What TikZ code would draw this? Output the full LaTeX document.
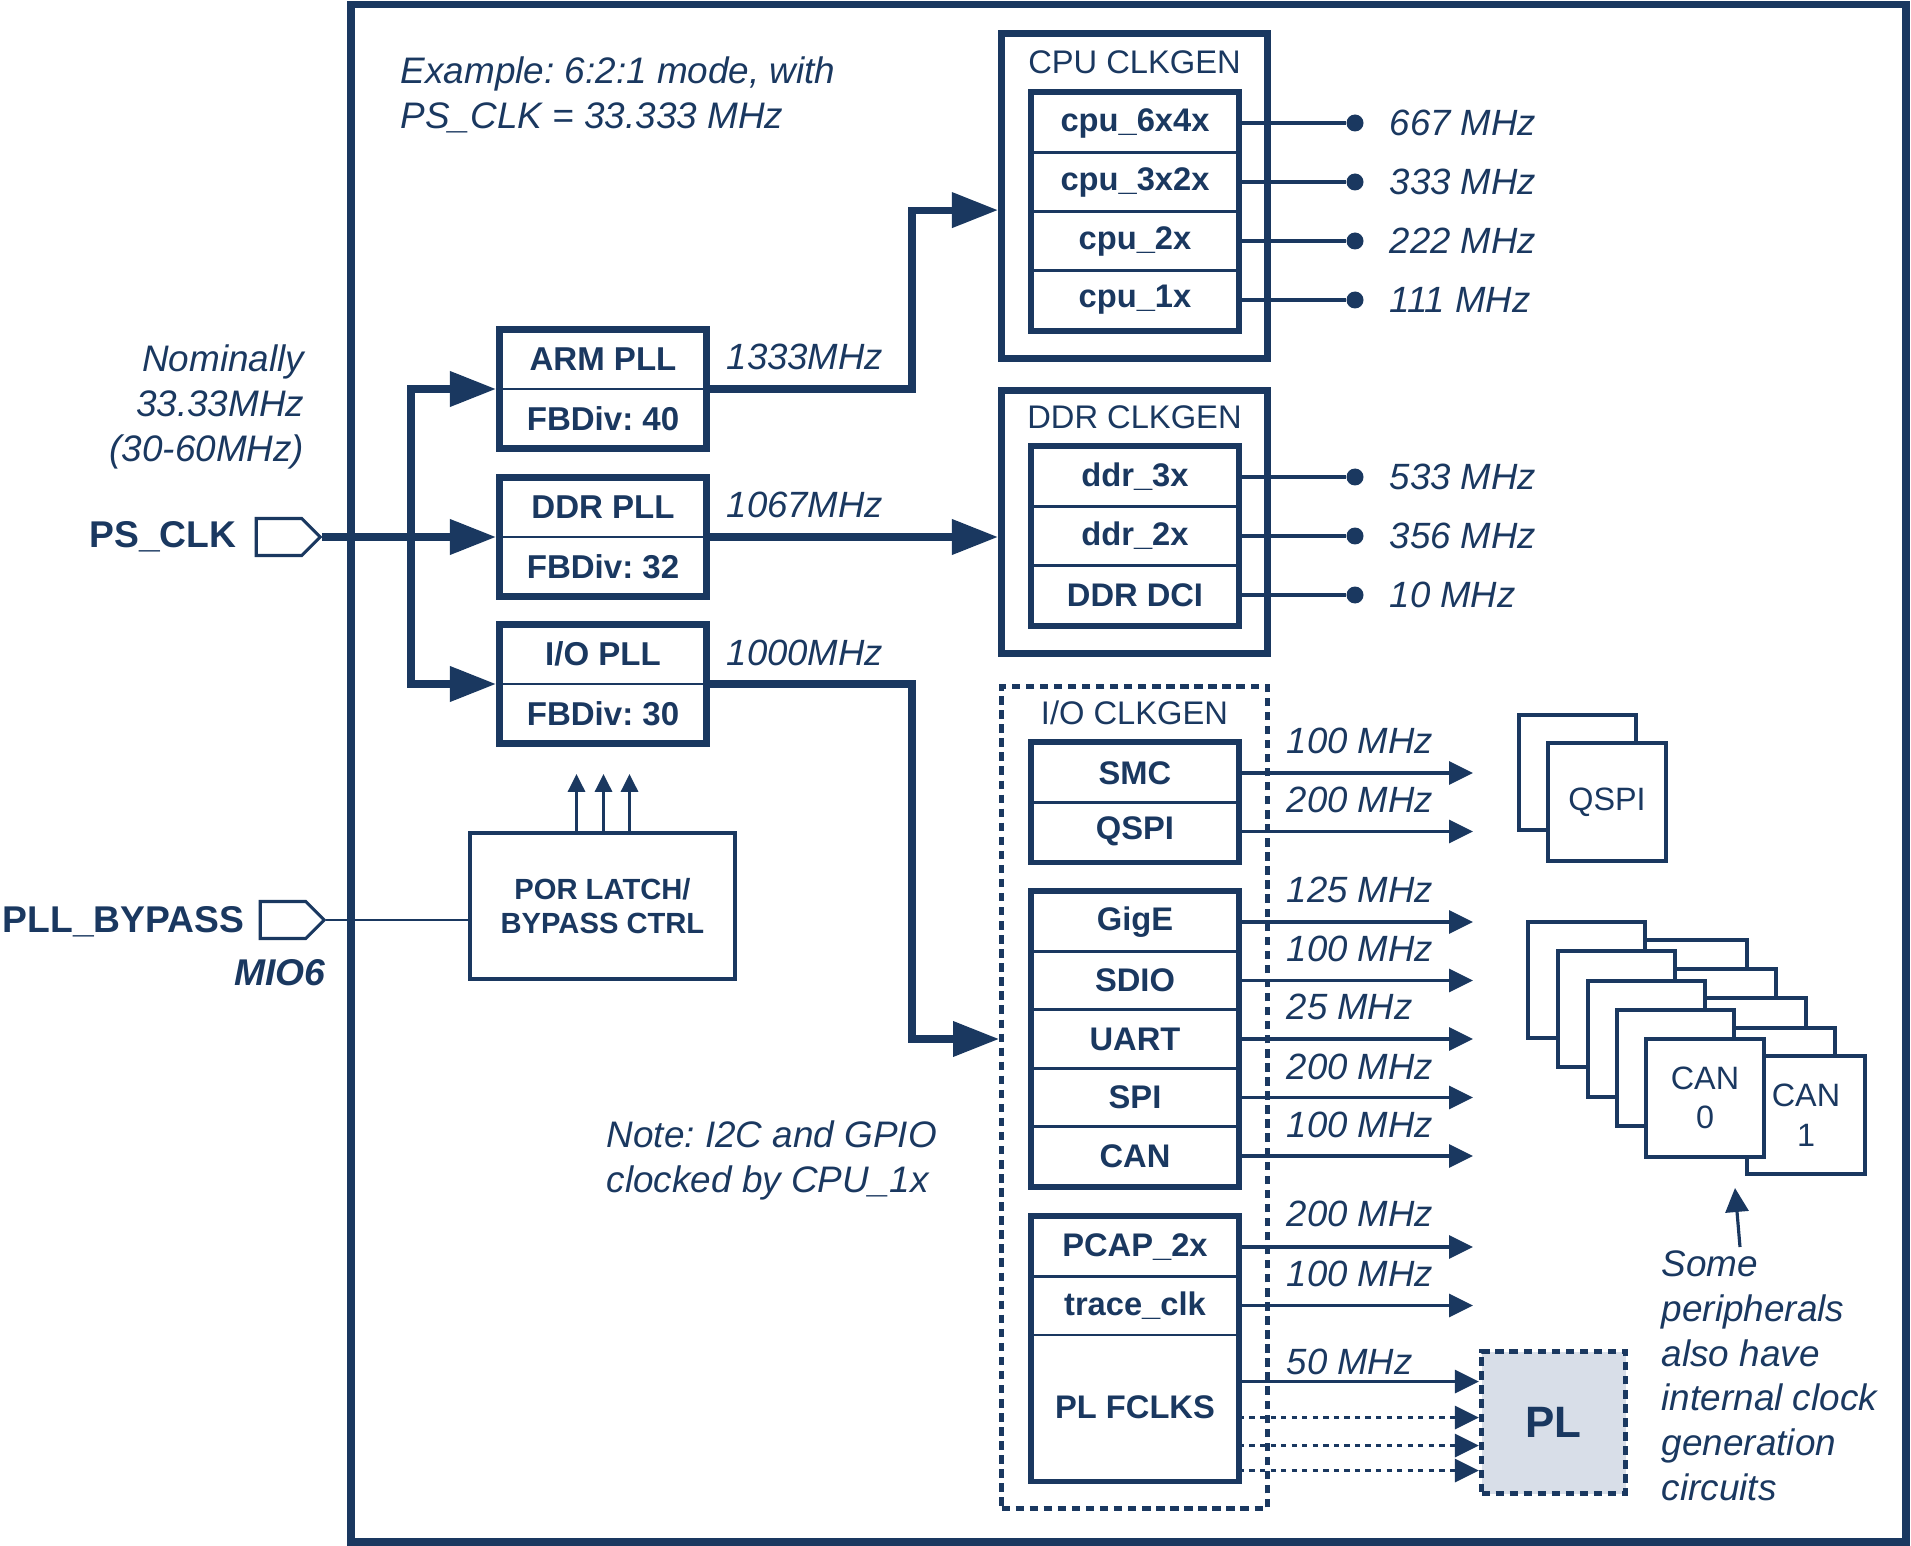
\documentclass[tikz,border=0pt]{standalone}
\usepackage{fontspec}
\setmainfont{Liberation Sans}
\frenchspacing
\usetikzlibrary{calc,shapes,arrows.meta}
\definecolor{navy}{RGB}{26,56,96}
\definecolor{plfill}{RGB}{216,222,232}
\tikzset{
	frame/.style     = {draw=navy, line width=2pt},
	pll/.style       = {shape=rectangle, draw=navy, line width=2pt,
		minimum width=20.7mm, minimum height=11.9mm, inner sep=0pt},
	plltext/.style   = {text=navy, inner sep=0pt,
		font=\fontsize{9.4}{11}\selectfont\bfseries},
	divider/.style   = {draw=navy, line width=0.8pt},
	clkgen/.style    = {shape=rectangle, draw=navy, line width=2pt,
		minimum width=26.6mm, inner sep=0pt},
	dashedgen/.style = {clkgen, line width=1.4pt, dash pattern=on 2.4pt off 1.6pt},
	clktitle/.style  = {text=navy, inner sep=0pt, font=\fontsize{9.3}{11}\selectfont},
	clkrow/.style    = {shape=rectangle, draw=navy, line width=0.8pt,
		minimum width=20.5mm, minimum height=5.9mm, inner sep=0pt,
		text=navy, font=\fontsize{9.3}{11}\selectfont\bfseries},
	rowframe/.style  = {draw=navy, line width=1.5pt},
	freq/.style      = {text=navy, inner sep=0pt, anchor=west,
		font=\fontsize{10.4}{12}\selectfont\itshape},
	note/.style      = {text=navy, inner sep=0pt,
		font=\fontsize{10.5}{12.75}\selectfont\itshape},
	port/.style      = {shape=signal, signal to=east, draw=navy, line width=0.9pt,
		minimum width=6.4mm, minimum height=3.7mm, inner sep=0pt},
	portlabel/.style = {text=navy, inner sep=0pt,
		font=\fontsize{10.6}{12}\selectfont\bfseries},
	porbox/.style    = {shape=rectangle, draw=navy, line width=1.2pt,
		minimum width=26.5mm, minimum height=14.6mm, inner sep=0pt, align=center,
		text=navy, font=\fontsize{8.3}{9.7}\selectfont\bfseries},
	dot/.style       = {shape=circle, fill=navy, minimum size=1.7mm, inner sep=0pt},
	outline/.style   = {draw=navy, line width=1.3pt},
	thinline/.style  = {draw=navy, line width=0.6pt},
	bigarrow/.style  = {draw=navy, line width=2pt,
		-{Triangle[length=4.6mm, width=3.4mm]}},
	busarrow/.style  = {draw=navy, line width=2pt,
		{Triangle[length=4.6mm, width=3.4mm]}-{Triangle[length=4.6mm, width=3.4mm]}},
	ioarrow/.style   = {draw=navy, line width=0.9pt,
		-{Triangle[length=2.4mm, width=2.3mm]}},
	uparrow/.style   = {draw=navy, line width=0.9pt,
		-{Triangle[length=1.8mm, width=1.7mm]}},
	plbox/.style     = {shape=rectangle, draw=navy, fill=plfill, line width=1.5pt,
		dash pattern=on 2.4pt off 1.6pt, minimum width=14.4mm, minimum height=14.2mm,
		inner sep=0pt, text=navy, font=\fontsize{12.5}{14}\selectfont\bfseries},
	periph/.style    = {draw=navy, fill=white, line width=1.3pt},
	periphbox/.style = {periph, shape=rectangle, minimum width=11.8mm, minimum height=11.8mm,
		inner sep=0pt, align=center, text=navy, font=\fontsize{9.2}{11.3}\selectfont}
}

\begin{document}
\begin{tikzpicture}[x=0.1mm, y=-0.1mm]
	\useasboundingbox (0,0) rectangle (1911,1546);
	\draw [frame] (351,4.5) rectangle (1906,1542);

	\node [note, anchor=north west, align=left] (example) at (400,56) {Example: 6:2:1 mode, with\\PS\_CLK = 33.333 MHz};
	\node [note, anchor=north east, align=right] (nominal) at (305,344) {Nominally\\33.33MHz\\(30-60MHz)};
	\node [note, anchor=north west, align=left] (i2cnote) at (606,1120) {Note: I2C and GPIO\\clocked by CPU\_1x};

	\node [port] (psclk) at (279,537) {};
	\node [portlabel, anchor=base east] (psclklabel) at (237,548) {PS\_CLK};
	\node [port] (bypass) at (283,920) {};
	\node [portlabel, anchor=base east] (bypasslabel) at (245,932) {PLL\_BYPASS};
	\node [portlabel, anchor=base east, font=\fontsize{10.6}{12}\selectfont\bfseries\itshape] (mio) at (326,985) {MIO6};

	\node [pll] (armpll) at (603,389) {};
	\node [plltext] (armname) at (603,359) {ARM PLL};
	\node [plltext] (armfb) at (603,419) {FBDiv: 40};
	\draw [divider] (armpll.west) -- (armpll.east);
	\node [pll] (ddrpll) at (603,537) {};
	\node [plltext] (ddrname) at (603,507) {DDR PLL};
	\node [plltext] (ddrfb) at (603,567) {FBDiv: 32};
	\draw [divider] (ddrpll.west) -- (ddrpll.east);
	\node [pll] (iopll) at (603,684) {};
	\node [plltext] (ioname) at (603,654) {I/O PLL};
	\node [plltext] (iofb) at (603,714) {FBDiv: 30};
	\draw [divider] (iopll.west) -- (iopll.east);

	\node [porbox] (por) at (602.5,906) {POR LATCH/\\BYPASS CTRL};
	\draw [uparrow] ([xshift=-2.6mm]por.north) -- ++(0,5.7mm);
	\draw [uparrow] ([xshift=0.1mm]por.north) -- ++(0,5.7mm);
	\draw [uparrow] ([xshift=2.7mm]por.north) -- ++(0,5.7mm);
	\draw [thinline] (bypass.east) -- (bypass.east -| por.west);

	\coordinate (bus) at (411,537);
	\coordinate (jog) at (912,537);
	\draw [bigarrow] (psclk.east) -- (ddrpll.west);
	\draw [busarrow] (armpll.west) -| (bus) |- (iopll.west);
	\node [freq] (f1333) at (726,357) {1333MHz};
	\node [freq] (f1067) at (726,505) {1067MHz};
	\node [freq] (f1000) at (726,653) {1000MHz};

	\node [clkgen, minimum height=32.5mm] (cpugen) at (1134.5,196) {};
	\node [clktitle] (cputitle) at (1134.5,62) {CPU CLKGEN};
	\node [clkrow] (cpu6) at (1135,123) {cpu\_6x4x};
	\node [clkrow] (cpu3) at (1135,182) {cpu\_3x2x};
	\node [clkrow] (cpu2) at (1135,241) {cpu\_2x};
	\node [clkrow] (cpu1) at (1135,300) {cpu\_1x};
	\draw [rowframe] (cpu6.north west) rectangle (cpu1.south east);
	\draw [bigarrow] (armpll.east) -| (jog |- cpu2.north) -- (cpugen.west |- cpu2.north);
	\node [dot] (d667) at (1355,123) {};
	\node [dot] (d333) at (1355,182) {};
	\node [dot] (d222) at (1355,241) {};
	\node [dot] (d111) at (1355,300) {};
	\draw [outline] (cpu6.east) -- (d667);
	\draw [outline] (cpu3.east) -- (d333);
	\draw [outline] (cpu2.east) -- (d222);
	\draw [outline] (cpu1.east) -- (d111);
	\node [freq] (f667) at (1389,123) {667 MHz};
	\node [freq] (f333) at (1389,182) {333 MHz};
	\node [freq] (f222) at (1389,241) {222 MHz};
	\node [freq] (f111) at (1389,300) {111 MHz};

	\node [clkgen, minimum height=26.3mm] (ddrgen) at (1134.5,522) {};
	\node [clktitle] (ddrtitle) at (1134.5,417) {DDR CLKGEN};
	\node [clkrow] (ddr3) at (1135,477) {ddr\_3x};
	\node [clkrow] (ddr2) at (1135,536) {ddr\_2x};
	\node [clkrow] (dci) at (1135,595) {DDR DCI};
	\draw [rowframe] (ddr3.north west) rectangle (dci.south east);
	\draw [bigarrow] (ddrpll.east) -- (ddrpll.east -| ddrgen.west);
	\node [dot] (d533) at (1355,477) {};
	\node [dot] (d356) at (1355,536) {};
	\node [dot] (d10) at (1355,595) {};
	\draw [outline] (ddr3.east) -- (d533);
	\draw [outline] (ddr2.east) -- (d356);
	\draw [outline] (dci.east) -- (d10);
	\node [freq] (f533) at (1389,477) {533 MHz};
	\node [freq] (f356) at (1389,536) {356 MHz};
	\node [freq] (f10) at (1389,595) {10 MHz};

	\node [dashedgen, minimum height=82.2mm] (iogen) at (1134.5,1097.5) {};
	\node [clktitle] (iotitle) at (1134.5,713) {I/O CLKGEN};
	\node [clkrow] (smc) at (1135,773) {SMC};
	\node [clkrow] (qspi) at (1135,831.5) {QSPI};
	\draw [rowframe] (smc.north west) rectangle (qspi.south east);
	\node [clkrow] (gige) at (1135,922) {GigE};
	\node [clkrow] (sdio) at (1135,980.5) {SDIO};
	\node [clkrow] (uart) at (1135,1039) {UART};
	\node [clkrow] (spi) at (1135,1097.5) {SPI};
	\node [clkrow] (can) at (1135,1156) {CAN};
	\draw [rowframe] (gige.north west) rectangle (can.south east);
	\node [clkrow] (pcap) at (1135,1247) {PCAP\_2x};
	\node [clkrow] (trace) at (1135,1305.5) {trace\_clk};
	\node [clkrow, minimum height=14.5mm] (fclk) at (1135,1407.5) {PL FCLKS};
	\draw [rowframe] (pcap.north west) rectangle (fclk.south east);
	\draw [bigarrow] (iopll.east) -| (jog |- uart.west) -- (iogen.west |- uart.west);

	\coordinate (ioend) at (1473,0);
	\draw [ioarrow] (smc.east) -- (smc.east -| ioend);
	\draw [ioarrow] (qspi.east) -- (qspi.east -| ioend);
	\draw [ioarrow] (gige.east) -- (gige.east -| ioend);
	\draw [ioarrow] (sdio.east) -- (sdio.east -| ioend);
	\draw [ioarrow] (uart.east) -- (uart.east -| ioend);
	\draw [ioarrow] (spi.east) -- (spi.east -| ioend);
	\draw [ioarrow] (can.east) -- (can.east -| ioend);
	\draw [ioarrow] (pcap.east) -- (pcap.east -| ioend);
	\draw [ioarrow] (trace.east) -- (trace.east -| ioend);
	\node [freq] (fsmc) at (1286,741) {100 MHz};
	\node [freq] (fqspi) at (1286,800) {200 MHz};
	\node [freq] (fgige) at (1286,890) {125 MHz};
	\node [freq] (fsdio) at (1286,949) {100 MHz};
	\node [freq] (fuart) at (1286,1007) {25 MHz};
	\node [freq] (fspi) at (1286,1067) {200 MHz};
	\node [freq] (fcan) at (1286,1125) {100 MHz};
	\node [freq] (fpcap) at (1286,1214) {200 MHz};
	\node [freq] (ftrace) at (1286,1274) {100 MHz};
	\node [freq] (ffclk) at (1286,1362) {50 MHz};

	\node [plbox] (pl) at (1553.5,1422.5) {PL};
	\coordinate (fc1) at ([yshift=2.6mm]fclk.east);
	\coordinate (fc2) at ([yshift=-1.0mm]fclk.east);
	\coordinate (fc3) at ([yshift=-3.8mm]fclk.east);
	\coordinate (fc4) at ([yshift=-6.3mm]fclk.east);
	\draw [ioarrow] (fc1) -- (fc1 -| pl.west);
	\draw [ioarrow, dash pattern=on 1.5pt off 1.5pt] (fc2) -- (fc2 -| pl.west);
	\draw [ioarrow, dash pattern=on 1.5pt off 1.5pt] (fc3) -- (fc3 -| pl.west);
	\draw [ioarrow, dash pattern=on 1.5pt off 1.5pt] (fc4) -- (fc4 -| pl.west);

	\draw [periph] (1519,715) rectangle (1636,830);
	\node [periphbox] (qspibox) at (1607,802) {QSPI};

	\draw [periph] (1630,940) rectangle ++(117,116);
	\draw [periph] (1528,922) rectangle ++(117,116);
	\draw [periph] (1659,969) rectangle ++(117,116);
	\draw [periph] (1558,951) rectangle ++(117,116);
	\draw [periph] (1689,998) rectangle ++(117,116);
	\draw [periph] (1588,981) rectangle ++(117,116);
	\draw [periph] (1718,1028) rectangle ++(117,116);
	\draw [periph] (1617,1010) rectangle ++(117,116);
	\node [periphbox] (can1) at (1806,1115) {CAN\\1};
	\node [periphbox] (can0) at (1705,1098) {CAN\\0};

	\node [note, anchor=north west, align=left] (somenote) at (1661,1250) {Some\\peripherals\\also have\\internal clock\\generation\\circuits};
	\coordinate (cantail) at (1740,1247);
	\coordinate (canhead) at (1735,1188);
	\draw [ioarrow] (cantail) -- (canhead);
\end{tikzpicture}
\end{document}
